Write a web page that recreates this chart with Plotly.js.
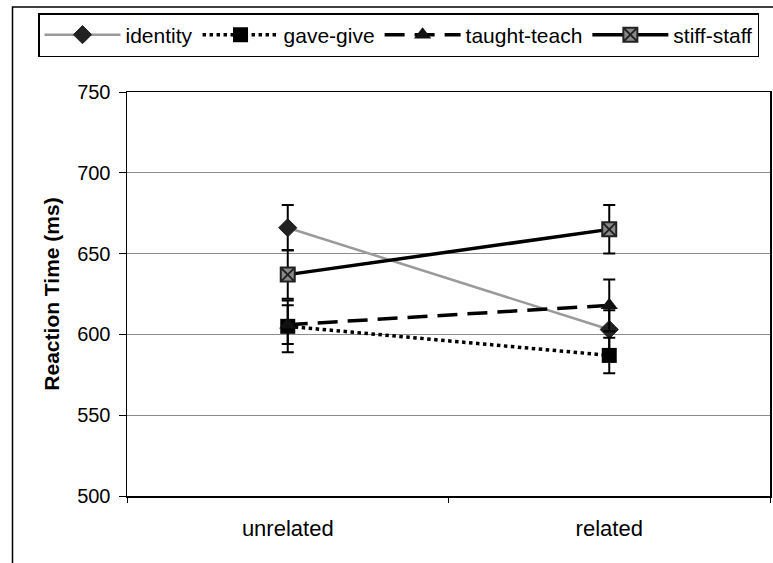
<!DOCTYPE html>
<html>
<head>
<meta charset="utf-8">
<script src="https://cdn.plot.ly/plotly-3.0.1.min.js"></script>
<style>html,body{margin:0;padding:0;background:#fff;}</style>
</head>
<body>
<div id="chart" style="width:773px;height:563px;"></div>
<script>
const categories = ["unrelated", "related"];
const seriesNames = ["identity", "gave-give", "taught-teach", "stiff-staff"];
const identity = [666, 603];
const identityErr = [14, 12];
const gaveGive = [605, 587];
const gaveGiveErr = [16, 11];
const taughtTeach = [606, 618];
const taughtTeachErr = [12, 16];
const stiffStaff = [637, 665];
const stiffStaffErr = [15, 15];
const yTicks = [500, 550, 600, 650, 700, 750];

const W = 773, H = 563;
const L = 127, R = 3, T = 92, B = 67;
const pw = W - L - R, ph = H - T - B;
const px = v => (v - L) / pw;
const py = v => (H - B - v) / ph;

function err(arr) {
  return {type: "data", array: arr, visible: true, color: "#000", thickness: 2, width: 6};
}

const traces = [
  {
    x: categories, y: identity, name: seriesNames[0], type: "scatter", mode: "lines+markers",
    line: {color: "#9a9a9a", width: 2.5},
    marker: {symbol: "diamond", size: 14, color: "#222", line: {color: "#222", width: 1}},
    error_y: err(identityErr)
  },
  {
    x: categories, y: gaveGive, name: seriesNames[1], type: "scatter", mode: "lines+markers",
    line: {color: "#000", width: 3.5, dash: "dot"},
    marker: {symbol: "square", size: 15, color: "#000"},
    error_y: err(gaveGiveErr)
  },
  {
    x: categories, y: taughtTeach, name: seriesNames[2], type: "scatter", mode: "lines+markers",
    line: {color: "#000", width: 3.5, dash: "20px,10px"},
    marker: {symbol: "triangle-up", size: 15, color: "#111"},
    error_y: err(taughtTeachErr)
  },
  {
    x: categories, y: stiffStaff, name: seriesNames[3], type: "scatter", mode: "lines+markers",
    line: {color: "#000", width: 3.5},
    marker: {symbol: "square-x", size: 14, color: "#8a8a8a", line: {color: "#222", width: 2}},
    error_y: err(stiffStaffErr)
  }
];

const font = "Arial, 'Liberation Sans', sans-serif";

const layout = {
  width: W, height: H,
  margin: {l: L, r: R, t: T, b: B},
  paper_bgcolor: "#fff", plot_bgcolor: "#fff",
  font: {family: font, color: "#000", size: 20},
  showlegend: true,
  legend: {
    orientation: "h",
    x: px(38), xanchor: "left",
    y: py(13), yanchor: "top",
    bordercolor: "#000", borderwidth: 1.5,
    font: {family: font, size: 21, color: "#000"},
    itemwidth: 76,
    tracegroupgap: 0
  },
  xaxis: {
    type: "category",
    range: [-0.5, 1.5],
    tickson: "boundaries",
    ticks: "outside", ticklen: 5, tickcolor: "#000", tickwidth: 1,
    showline: true, linecolor: "#000", linewidth: 1.5, mirror: true,
    showgrid: false, zeroline: false,
    tickfont: {family: font, size: 22, color: "#000"},
    ticklabelstandoff: 12
  },
  yaxis: {
    range: [500, 750],
    tickvals: yTicks,
    ticktext: yTicks.map(String),
    ticks: "outside", ticklen: 7, tickcolor: "#000", tickwidth: 1,
    showline: true, linecolor: "#000", linewidth: 1.5, mirror: true,
    showgrid: true, gridcolor: "#8c8c8c", gridwidth: 1,
    zeroline: false,
    tickfont: {family: font, size: 20, color: "#000"},
    ticklabelstandoff: 4,
    title: {text: "<b>Reaction Time (ms)</b>", font: {family: font, size: 21, color: "#000"}, standoff: 12}
  },
  shapes: [
    {
      type: "rect", xref: "paper", yref: "paper",
      x0: px(12.5), x1: px(790), y0: py(580), y1: py(7),
      line: {color: "#000", width: 1.5}, fillcolor: "rgba(0,0,0,0)", layer: "below"
    }
  ]
};

Plotly.newPlot("chart", traces, layout, {staticPlot: true, displayModeBar: false});
</script>
</body>
</html>
